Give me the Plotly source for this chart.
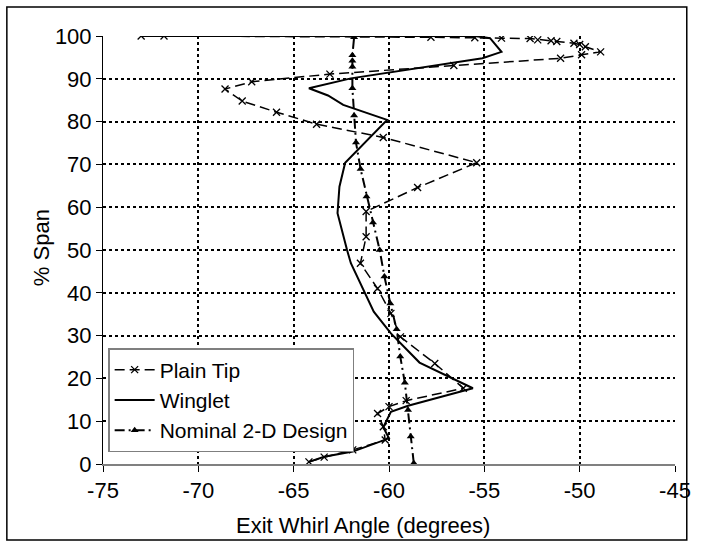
import plotly.graph_objects as go

# Plain Tip
plain_x = [-64.2, -63.4, -61.9, -60.2, -60.3, -60.6, -60.0, -59.1, -56.1, -57.6, -59.4,
           -59.9, -60.6, -61.5, -61.2, -61.2, -58.5, -55.4, -60.3, -63.8, -65.9, -67.7,
           -68.6, -67.2, -63.1, -56.6, -51.0, -49.9, -48.9, -49.7, -50.0, -50.3, -51.2,
           -51.5, -52.2, -52.6, -54.1, -55.5, -57.8, -71.8, -73.0]
plain_y = [0.5, 1.6, 3.3, 5.6, 8.7, 11.8, 13.4, 14.8, 17.7, 23.5, 29.7,
           35.2, 41.0, 46.9, 53.1, 59.0, 64.6, 70.4, 76.3, 79.4, 82.2, 84.8,
           87.6, 89.3, 91.1, 93.1, 94.8, 95.6, 96.3, 97.5, 98.0, 98.3, 98.7,
           98.9, 99.1, 99.4, 99.5, 99.6, 99.7, 100.0, 100.0]

# Winglet
wing_x = [-64.2, -63.4, -61.9, -60.15, -60.0, -60.3, -59.9, -59.0, -55.6, -58.4, -59.9,
          -60.8, -61.4, -62.0, -62.2, -62.7, -62.6, -62.3, -60.1, -62.4, -63.2, -64.2,
          -62.0, -55.1, -54.1, -54.7, -55.5, -73.0]
wing_y = [0.5, 1.7, 2.9, 5.6, 6.0, 8.6, 12.2, 13.6, 17.7, 23.7, 30.5,
          35.6, 41.4, 46.9, 50.0, 58.6, 64.8, 70.4, 80.4, 83.9, 86.1, 87.8,
          90.1, 94.8, 96.3, 99.5, 100.0, 100.0]

# Nominal 2-D Design
nom_x = [-58.7, -58.86, -59.0, -59.17, -59.41, -59.6, -59.93, -60.24, -60.49, -60.84,
         -61.18, -61.49, -61.73, -61.83, -61.92, -61.92, -61.92, -61.92, -61.83]
nom_y = [0.2, 6.4, 12.6, 19.0, 25.1, 31.5, 37.5, 43.8, 50.0, 56.4,
         62.5, 68.9, 75.1, 81.4, 87.8, 92.8, 94.2, 95.5, 99.7]

x_ticks = [-75, -70, -65, -60, -55, -50, -45]
y_ticks = [0, 10, 20, 30, 40, 50, 60, 70, 80, 90, 100]
x_title = "Exit Whirl Angle (degrees)"
y_title = "% Span"

FONT = "Liberation Sans, Arial, sans-serif"
FS = 22

fig = go.Figure()
fig.add_trace(go.Scatter(x=plain_x, y=plain_y, mode="lines+markers", name="Plain Tip",
                         line=dict(color="black", width=1.5, dash="10px,5px"),
                         marker=dict(symbol="x-thin", size=7, line=dict(color="black", width=1.3))))
fig.add_trace(go.Scatter(x=wing_x, y=wing_y, mode="lines", name="Winglet",
                         line=dict(color="black", width=2)))
fig.add_trace(go.Scatter(x=nom_x, y=nom_y, mode="lines+markers", name="Nominal 2-D Design",
                         line=dict(color="black", width=2, dash="10px,4px,2px,4px"),
                         marker=dict(symbol="triangle-up", size=7, color="black")))

fig.update_layout(
    width=703, height=543,
    margin=dict(l=103, r=17, t=36, b=79),
    paper_bgcolor="white", plot_bgcolor="white",
    font=dict(family=FONT, size=FS, color="black"),
    showlegend=True,
    legend=dict(x=0.009, y=0.271, xanchor="left", yanchor="top",
                bgcolor="white", bordercolor="#7f7f7f", borderwidth=1.5,
                font=dict(family=FONT, size=FS - 1), tracegroupgap=0,
                itemwidth=40),
    shapes=[dict(type="rect", xref="paper", yref="paper",
                 x0=(5 - 103) / 583, x1=(698 - 103) / 583,
                 y0=(464 - 540) / 428, y1=(464 - 7) / 428,
                 line=dict(color="black", width=1.5), fillcolor="rgba(0,0,0,0)", layer="below")],
    annotations=[
        dict(text=x_title, xref="paper", yref="paper", x=(368 - 103) / 583, y=(464 - 525) / 428,
             xanchor="center", yanchor="middle", showarrow=False,
             font=dict(family=FONT, size=FS, color="black")),
        dict(text=y_title, xref="paper", yref="paper", x=(40 - 103) / 583, y=(464 - 248) / 428,
             xanchor="center", yanchor="middle", showarrow=False, textangle=-90,
             font=dict(family=FONT, size=FS, color="black")),
    ],
)
fig.update_xaxes(range=[-75, -45], tickvals=x_ticks, ticktext=[str(v) for v in x_ticks],
                 showline=True, linecolor="#808080", linewidth=2,
                 ticks="outside", ticklen=6, tickcolor="black", tickwidth=1,
                 showgrid=True, gridcolor="black", griddash="dot", gridwidth=1.5,
                 zeroline=False, tickfont=dict(family=FONT, size=FS))
fig.update_yaxes(range=[0, 100], tickvals=y_ticks, ticktext=[str(v) for v in y_ticks],
                 showline=True, linecolor="black", linewidth=1,
                 ticks="outside", ticklen=6, tickcolor="black", tickwidth=1,
                 showgrid=True, gridcolor="black", griddash="dot", gridwidth=1.5,
                 zeroline=False, tickfont=dict(family=FONT, size=FS))

fig.write_html("out.html")
